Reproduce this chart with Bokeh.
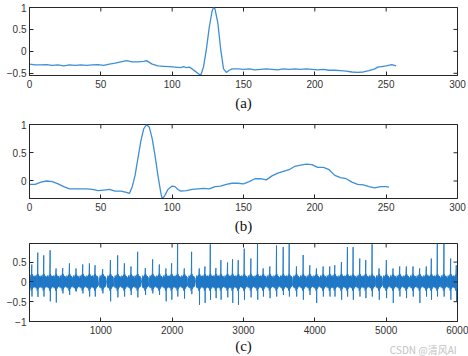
from bokeh.plotting import figure
from bokeh.models import FixedTicker, Range1d, LinearAxis
from bokeh.layouts import column
from bokeh.embed import file_html
from bokeh.resources import INLINE

# ---------------- data ----------------
a_x = [0, 4, 8, 12, 16, 20, 24, 28, 32, 36, 40, 44, 48, 52, 56, 60, 64, 68, 72, 76, 80, 82, 86, 90,
       94, 98, 102, 106, 108, 110, 112, 114, 116, 118, 120, 122, 124, 126, 128, 129, 130, 132, 134,
       136, 138, 140, 142, 146, 150, 154, 158, 162, 166, 170, 174, 178, 182, 186, 190, 194, 198,
       202, 206, 210, 214, 218, 222, 226, 230, 234, 238, 242, 244, 248, 250, 254, 257]
a_y = [-0.29, -0.31, -0.31, -0.30, -0.32, -0.31, -0.33, -0.31, -0.32, -0.31, -0.32, -0.31, -0.30,
       -0.32, -0.29, -0.27, -0.24, -0.21, -0.24, -0.24, -0.23, -0.21, -0.29, -0.33, -0.34, -0.35,
       -0.36, -0.37, -0.35, -0.37, -0.36, -0.40, -0.45, -0.50, -0.55, -0.35, 0.05, 0.55, 0.92, 1.0,
       0.97, 0.65, 0.05, -0.40, -0.48, -0.43, -0.40, -0.40, -0.41, -0.40, -0.42, -0.41, -0.40,
       -0.41, -0.42, -0.40, -0.41, -0.40, -0.41, -0.40, -0.41, -0.42, -0.41, -0.43, -0.43, -0.44,
       -0.45, -0.47, -0.48, -0.47, -0.44, -0.40, -0.36, -0.34, -0.33, -0.30, -0.33]

b_x = [0, 4, 8, 12, 16, 20, 24, 28, 32, 36, 40, 44, 48, 52, 56, 60, 64, 68, 70, 72, 74, 76, 78, 80,
       82, 84, 86, 88, 90, 92, 93, 95, 97, 100, 102, 104, 106, 110, 114, 118, 122, 126, 130, 134,
       138, 142, 146, 150, 154, 158, 162, 166, 170, 174, 178, 182, 186, 190, 194, 198, 202, 206,
       210, 214, 218, 222, 226, 230, 234, 238, 242, 246, 250, 252]
b_y = [-0.06, -0.06, -0.02, 0.00, -0.01, -0.05, -0.10, -0.14, -0.14, -0.14, -0.14, -0.15, -0.17,
       -0.16, -0.15, -0.18, -0.18, -0.20, -0.22, -0.10, 0.10, 0.40, 0.70, 0.92, 1.0, 0.95, 0.75,
       0.45, 0.10, -0.20, -0.32, -0.25, -0.15, -0.09, -0.10, -0.15, -0.18, -0.17, -0.15, -0.14,
       -0.13, -0.14, -0.10, -0.09, -0.06, -0.04, -0.04, -0.05, -0.01, 0.04, 0.04, 0.02, 0.09, 0.14,
       0.17, 0.20, 0.26, 0.28, 0.30, 0.29, 0.24, 0.24, 0.20, 0.10, 0.06, 0.04, -0.02, -0.06, -0.07,
       -0.10, -0.12, -0.10, -0.10, -0.11]

# panel (c): beat positions (samples), peak and trough amplitudes
c_pos = [33, 117, 201, 290, 374, 467, 561, 654, 747, 841, 920, 1027, 1135, 1237, 1331, 1424, 1517,
         1625, 1727, 1821, 1914, 1993, 2077, 2171, 2273, 2381, 2460, 2535, 2614, 2684, 2777, 2847,
         2927, 3011, 3104, 3197, 3277, 3370, 3463, 3557, 3641, 3743, 3837, 3930, 4023, 4117, 4210,
         4280, 4373, 4457, 4537, 4630, 4714, 4803, 4901, 5003, 5097, 5190, 5283, 5377, 5470, 5563,
         5633, 5717, 5810, 5904, 5983]
c_up = [0.44, 0.74, 0.67, 0.80, 0.34, 0.35, 0.47, 0.34, 0.44, 0.47, 0.42, 0.32, 0.55, 0.67, 0.47,
        0.39, 0.76, 0.35, 0.57, 0.44, 0.34, 0.47, 0.97, 0.34, 0.76, 0.34, 0.39, 0.95, 0.35, 0.55,
        0.49, 0.57, 0.55, 0.84, 0.59, 0.97, 0.34, 0.39, 0.92, 0.88, 0.97, 0.39, 0.68, 0.42, 0.34,
        0.39, 0.39, 0.42, 0.50, 0.88, 0.88, 0.59, 0.55, 0.95, 0.34, 0.55, 0.34, 0.39, 0.39, 0.39,
        0.34, 0.39, 0.59, 0.97, 0.97, 0.59, 0.42]
c_down = [-0.37, -0.38, -0.37, -0.49, -0.52, -0.29, -0.33, -0.24, -0.29, -0.37, -0.37, -0.29,
          -0.49, -0.39, -0.37, -0.33, -0.39, -0.33, -0.29, -0.33, -0.49, -0.45, -0.37, -0.42,
          -0.31, -0.58, -0.53, -0.45, -0.41, -0.45, -0.39, -0.53, -0.58, -0.45, -0.39, -0.45,
          -0.37, -0.41, -0.37, -0.33, -0.37, -0.37, -0.45, -0.33, -0.53, -0.37, -0.37, -0.37,
          -0.45, -0.37, -0.45, -0.37, -0.41, -0.37, -0.45, -0.41, -0.53, -0.37, -0.41, -0.37,
          -0.53, -0.37, -0.45, -0.37, -0.37, -0.45, -0.49]
# shape of the oscillation band around each beat (offset in samples, level)
beat_offsets = [-44, -40, -36, -32, -28, -24, -20, -16, -12, -8, -4, 0, 3, 6, 10, 14, 18, 22, 26, 30, 34, 38, 42]
beat_levels = [0.10, -0.14, 0.16, -0.12, 0.14, -0.16, 0.12, -0.14, 0.18, -0.22, 0.25, "up", "down",
               0.20, -0.18, 0.16, -0.15, 0.14, -0.12, 0.15, -0.13, 0.12, -0.10]

a_xticks = [0, 50, 100, 150, 200, 250, 300]
a_yticks = [-0.5, 0, 0.5, 1]
b_yticks = [0, 0.5, 1]
c_xticks = [1000, 2000, 3000, 4000, 5000, 6000]
c_yticks = [-1, -0.5, 0, 0.5]
watermark = "CSDN @清风AI"

c_x, c_y = [], []
for pos, up, dn in zip(c_pos, c_up, c_down):
    for off, lev in zip(beat_offsets, beat_levels):
        x = pos + off
        if x < 1 or x > 6000:
            continue
        c_x.append(x)
        c_y.append(up if lev == "up" else dn if lev == "down" else lev)

AX = "#262626"
LINE = "#3d8fd6"


def style_caption(ax, caption, standoff):
    ax.axis_label = caption
    ax.axis_label_text_font = "Liberation Serif"
    ax.axis_label_text_font_style = "normal"
    ax.axis_label_text_font_size = "15px"
    ax.axis_label_text_color = "#111111"
    ax.axis_label_standoff = standoff


def style(p, xticks, yticks):
    p.grid.visible = False
    p.outline_line_color = AX
    p.outline_line_width = 1
    p.background_fill_color = "white"
    p.border_fill_color = "white"
    xb = p.below[0]
    yl = p.left[0]
    xb.ticker = FixedTicker(ticks=xticks)
    yl.ticker = FixedTicker(ticks=yticks)
    for ax in [xb, yl]:
        ax.axis_line_color = AX
        ax.major_tick_line_color = AX
        ax.major_tick_in = 4
        ax.major_tick_out = 0
        ax.minor_tick_line_color = None
        ax.major_label_text_font = "Liberation Sans"
        ax.major_label_text_font_size = "10px"
        ax.major_label_text_color = "#333333"
        ax.major_label_standoff = 3
    xb.major_label_standoff = 4
    # inward ticks on the top and right edges of the box (clipped to the frame)
    xr, yr = p.x_range, p.y_range
    p.scatter([xr.end] * len(yticks), yticks, marker="dash", size=8, line_color=AX, line_width=1)
    p.scatter(xticks, [yr.end] * len(xticks), marker="dash", angle=1.5708, size=8,
              line_color=AX, line_width=1)
    return xb


p1 = figure(width=468, height=115, x_range=Range1d(0, 300), y_range=Range1d(-0.55, 1.0),
            output_backend="svg", toolbar_location=None,
            min_border_left=27, min_border_right=10, min_border_top=7, min_border_bottom=40)
p1.line(a_x, a_y, line_color=LINE, line_width=1.3)
style_caption(style(p1, a_xticks, a_yticks), "(a)", 4)

p2 = figure(width=468, height=121, x_range=Range1d(0, 300), y_range=Range1d(-0.31, 1.0),
            output_backend="svg", toolbar_location=None,
            min_border_left=27, min_border_right=10, min_border_top=9, min_border_bottom=38)
p2.line(b_x, b_y, line_color=LINE, line_width=1.3)
style_caption(style(p2, a_xticks, b_yticks), "(b)", 4)

p3 = figure(width=468, height=120, x_range=Range1d(1, 6000), y_range=Range1d(-1.0, 0.97),
            output_backend="svg", toolbar_location=None,
            min_border_left=29, min_border_right=11, min_border_top=7, min_border_bottom=34)
p3.line(c_x, c_y, line_color="#1f78c6", line_width=0.9)
style(p3, c_xticks, c_yticks)
# second, tick-less axis row: carries the watermark and the caption
wm_x = 5850
wm_axis = LinearAxis(ticker=FixedTicker(ticks=[wm_x]), major_label_overrides={wm_x: watermark},
                     axis_line_color=None, major_tick_line_color=None, minor_tick_line_color=None,
                     major_tick_in=0, major_tick_out=0, minor_tick_in=0, minor_tick_out=0,
                     major_label_standoff=5, major_label_text_font="Noto Sans CJK SC",
                     major_label_text_font_size="10px", major_label_text_color="#c2c2c2")
p3.add_layout(wm_axis, "below")
style_caption(wm_axis, "(c)", -22)

layout = column(p1, p2, p3, spacing=0)
open("out.html", "w").write(file_html(layout, INLINE))
